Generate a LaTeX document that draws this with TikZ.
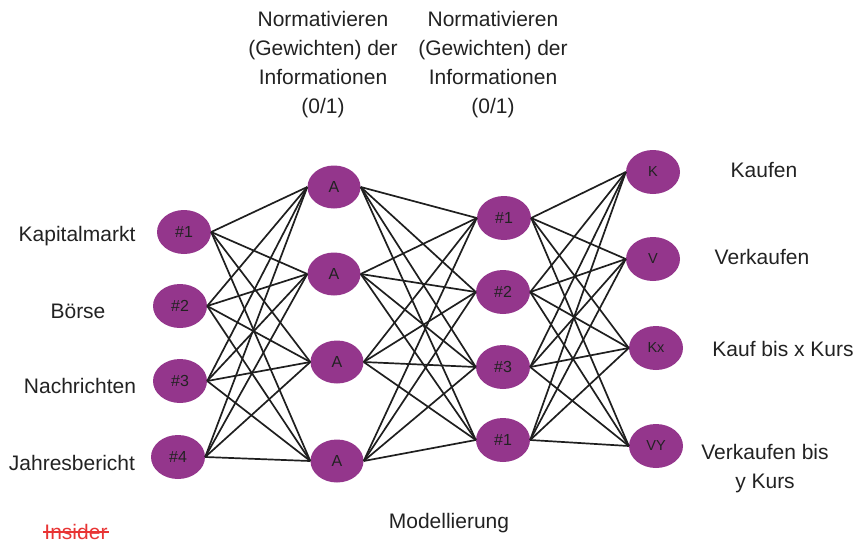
\documentclass[tikz,border=0pt]{standalone}
\usepackage{fontspec}
\setmainfont{Liberation Sans}
\usetikzlibrary{shapes.geometric}
\definecolor{neuronfill}{RGB}{148,54,140}
\definecolor{ink}{RGB}{34,34,34}
\definecolor{strikered}{RGB}{232,52,52}

\begin{document}
\begin{tikzpicture}[x=1pt,y=-1pt,
  neuron/.style={ellipse, fill=neuronfill, minimum width=54pt, minimum height=44pt,
                 inner sep=0pt, text=ink, font=\fontsize{16}{18}\selectfont},
  outneuron/.style={neuron, font=\fontsize{14.5}{16}\selectfont},
  link/.style={draw=black!88, line width=1.7pt},
  txt/.style={text=ink, font=\fontsize{21}{29}\selectfont, align=center, inner sep=0pt},
]
\useasboundingbox (0,0) rectangle (858,543);

% input layer
\node[neuron] (i1) at (184,232) {\#1};
\node[neuron] (i2) at (180,306) {\#2};
\node[neuron] (i3) at (180,381) {\#3};
\node[neuron] (i4) at (178,457) {\#4};

% first weighting layer
\node[neuron, minimum width=53pt, minimum height=43pt] (a1) at (334,187) {A};
\node[neuron, minimum width=53pt, minimum height=43pt] (a2) at (334,274) {A};
\node[neuron, minimum width=53pt, minimum height=43pt] (a3) at (337,362) {A};
\node[neuron, minimum width=53pt, minimum height=43pt] (a4) at (337,461) {A};

% second weighting layer
\node[neuron] (b1) at (504,218) {\#1};
\node[neuron] (b2) at (503,292) {\#2};
\node[neuron] (b3) at (503,367) {\#3};
\node[neuron] (b4) at (503,440) {\#1};

% output layer
\node[outneuron] (o1) at (653,172) {K};
\node[outneuron] (o2) at (653,259) {V};
\node[outneuron] (o3) at (656,348) {Kx};
\node[outneuron] (o4) at (656,446) {VY};

% full connections between consecutive layers
\foreach \s in {i1,i2,i3,i4}
  \foreach \t in {a1,a2,a3,a4}
    \draw[link] (\s.east) -- (\t.west);
\foreach \s in {a1,a2,a3,a4}
  \foreach \t in {b1,b2,b3,b4}
    \draw[link] (\s.east) -- (\t.west);
\foreach \s in {b1,b2,b3,b4}
  \foreach \t in {o1,o2,o3,o4}
    \draw[link] (\s.east) -- (\t.west);

% headings above the hidden layers
\node[txt] (h1) at (323,64.5) {Normativieren\\(Gewichten) der\\Informationen\\(0/1)};
\node[txt] (h2) at (493,64.5) {Normativieren\\(Gewichten) der\\Informationen\\(0/1)};

% input captions
\node[txt, anchor=base] (l1) at (77,241.5) {Kapitalmarkt};
\node[txt, anchor=base] (l2) at (78,318.5) {Börse};
\node[txt, anchor=base] (l3) at (80,393.5) {Nachrichten};
\node[txt, anchor=base] (l4) at (72,470.5) {Jahresbericht};
\node[txt, anchor=base, text=strikered] (l5) at (76,539.5) {Insider};
\draw[strikered, line width=1.4pt] ([xshift=-1pt]l5.west) -- ([xshift=1pt]l5.east);

% output captions
\node[txt, anchor=base] (r1) at (764,177.5) {Kaufen};
\node[txt, anchor=base] (r2) at (762,264.5) {Verkaufen};
\node[txt, anchor=base] (r3) at (783,356.5) {Kauf bis x Kurs};
\node[txt] (r4) at (765,468.5) {Verkaufen bis\\y Kurs};

% model caption
\node[txt, anchor=base] (m) at (449,528) {Modellierung};
\end{tikzpicture}
\end{document}
